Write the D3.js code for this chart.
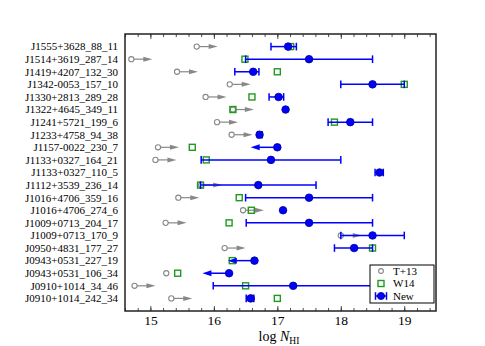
<!DOCTYPE html>
<html>
<head>
<meta charset="utf-8">
<script src="https://cdn.jsdelivr.net/npm/d3@7"></script>
<style>
  body { margin: 0; background: #fff; }
  svg { display: block; font-family: "Liberation Serif", "DejaVu Serif", serif; }
</style>
</head>
<body>
<svg id="chart" width="485" height="346"></svg>
<script>
// Sightlines, top to bottom
const names = [
  "J1555+3628_88_11", "J1514+3619_287_14", "J1419+4207_132_30", "J1342-0053_157_10",
  "J1330+2813_289_28", "J1322+4645_349_11", "J1241+5721_199_6", "J1233+4758_94_38",
  "J1157-0022_230_7", "J1133+0327_164_21", "J1133+0327_110_5", "J1112+3539_236_14",
  "J1016+4706_359_16", "J1016+4706_274_6", "J1009+0713_204_17", "J1009+0713_170_9",
  "J0950+4831_177_27", "J0943+0531_227_19", "J0943+0531_106_34", "J0910+1014_34_46",
  "J0910+1014_242_34"
];

// T+13 (grey circles), lower limit flag -> arrow to the right
const t13 = [15.73, 14.70, 15.42, 16.25, 15.87, 16.30, 16.05, 16.28, 15.12, 15.08, null,
  15.80, 15.44, 16.46, 15.24, 18.00, 16.17, null, 15.25, 14.75, 15.33];
const t13Limit = [1, 1, 1, 1, 1, 1, 1, 1, 1, 1, 0, 1, 1, 1, 1, 1, 1, 0, 0, 1, 1];

// W14 (green squares)
const w14 = [17.21, 16.49, 17.00, 19.00, 16.60, 16.30, 17.90, null, 15.66, 15.88, null,
  15.79, 16.40, 16.59, 16.24, null, 18.50, 16.29, 15.43, 16.50, 17.00];

// New (blue): value with range, or upper limit when lo/hi are null
const newVal = [17.17, 17.50, 16.62, 18.50, 17.02, 17.13, 18.15, 16.72, 17.00, 16.90, 18.61,
  16.70, 17.50, 17.09, 17.50, 18.50, 18.21, 16.64, 16.24, 17.25, 16.58];
const newLo = [16.90, 16.50, 16.33, 18.00, 16.87, 17.13, 17.80, 16.69, null, 15.80, 18.54,
  15.79, 16.50, 17.09, 16.51, 18.00, 17.90, null, null, 15.99, 16.51];
const newHi = [17.30, 18.50, 16.71, 19.00, 17.10, 17.13, 18.50, 16.76, null, 18.00, 18.67,
  17.61, 18.50, 17.09, 18.50, 19.00, 18.50, null, null, 18.50, 16.63];

const majorTicks = [15, 16, 17, 18, 19];
const minorTicks = d3.range(14.6, 19.5, 0.2).map(v => +v.toFixed(1));
const legendLabels = ["T+13", "W14", "New"];

const grey = "#888", green = "#1f9a1f", blue = "#0000ff";
const lowerLen = 0.33, upperLen = 0.42;

const svg = d3.select("#chart");
const mLeft = 125, mRight = 436, mTop = 34, mBottom = 311;

const x = d3.scaleLinear().domain([14.6, 19.5]).range([mLeft, mRight]);
const y = d3.scalePoint().domain(names).range([mTop, mBottom]).padding(1);

// Axes (ticks inside on top and bottom)
const bottomAxis = svg.append("g").attr("transform", `translate(0,${mBottom})`)
  .call(d3.axisBottom(x).tickValues(majorTicks).tickSize(-5).tickPadding(4).tickFormat(d3.format("d")));
svg.append("g").attr("transform", `translate(0,${mBottom})`)
  .call(d3.axisBottom(x).tickValues(minorTicks).tickSize(-3).tickFormat(""));
svg.append("g").attr("transform", `translate(0,${mTop})`)
  .call(d3.axisTop(x).tickValues(majorTicks).tickSize(-5).tickFormat(""));
svg.append("g").attr("transform", `translate(0,${mTop})`)
  .call(d3.axisTop(x).tickValues(minorTicks).tickSize(-3).tickFormat(""));
svg.selectAll(".domain").remove();
svg.selectAll(".tick line").attr("stroke", "#222").attr("stroke-width", 0.8);
bottomAxis.selectAll("text").attr("font-size", 13.5).attr("fill", "#000")
  .attr("font-family", "Liberation Serif");

// Row labels
svg.append("g").selectAll("text")
  .data(names)
  .enter()
  .append("text")
  .attr("x", 118)
  .attr("y", d => y(d))
  .attr("dy", "0.35em")
  .attr("text-anchor", "end")
  .attr("font-size", 11)
  .text(d => d);

const plot = svg.append("g");

function arrow(g, x0, x1, yy, color, width, headLen, headHalf) {
  const dir = x1 > x0 ? 1 : -1;
  g.append("line")
    .attr("x1", x0).attr("x2", x1 - dir * headLen * 0.6)
    .attr("y1", yy).attr("y2", yy)
    .attr("stroke", color).attr("stroke-width", width);
  g.append("path")
    .attr("d", `M${x1},${yy} L${x1 - dir * headLen},${yy - headHalf} L${x1 - dir * headLen},${yy + headHalf} Z`)
    .attr("fill", color);
}

// T+13
names.forEach((n, i) => {
  if (t13[i] == null) return;
  const cx = x(t13[i]), cy = y(n);
  if (t13Limit[i]) arrow(plot, cx + 2.5, x(t13[i] + lowerLen), cy, grey, 1.2, 9, 2.5);
  plot.append("circle")
    .attr("cx", cx).attr("cy", cy).attr("r", 2.6)
    .attr("fill", "none").attr("stroke", grey).attr("stroke-width", 1.1);
});

// W14
names.forEach((n, i) => {
  if (w14[i] == null) return;
  plot.append("rect")
    .attr("x", x(w14[i]) - 3).attr("y", y(n) - 3)
    .attr("width", 6).attr("height", 6)
    .attr("fill", "none").attr("stroke", green).attr("stroke-width", 1.4);
});

// New
names.forEach((n, i) => {
  const cy = y(n), cx = x(newVal[i]);
  if (newLo[i] == null) {
    arrow(plot, cx, x(newVal[i] - upperLen), cy, blue, 1.5, 9, 3);
  } else if (newHi[i] - newLo[i] > 0.001) {
    const x0 = x(newLo[i]), x1 = x(newHi[i]);
    plot.append("line").attr("x1", x0).attr("x2", x1).attr("y1", cy).attr("y2", cy)
      .attr("stroke", blue).attr("stroke-width", 1.5);
    [x0, x1].forEach(xx => plot.append("line")
      .attr("x1", xx).attr("x2", xx).attr("y1", cy - 3.8).attr("y2", cy + 3.8)
      .attr("stroke", blue).attr("stroke-width", 1.5));
  }
  plot.append("circle")
    .attr("cx", cx).attr("cy", cy).attr("r", 3.8)
    .attr("fill", blue).attr("stroke", "#00008b").attr("stroke-width", 0.8);
});

// Frame
svg.append("rect")
  .attr("x", mLeft).attr("y", mTop)
  .attr("width", mRight - mLeft).attr("height", mBottom - mTop)
  .attr("fill", "none").attr("stroke", "#222").attr("stroke-width", 1.5);

// Axis title
const title = svg.append("text")
  .attr("x", 279).attr("y", 341)
  .attr("text-anchor", "middle")
  .attr("font-size", 14);
title.append("tspan").text("log ");
title.append("tspan").attr("font-style", "italic").text("N");
title.append("tspan").attr("font-size", 9.5).attr("dy", 3).text("HI");

// Legend
const lg = svg.append("g");
lg.append("rect")
  .attr("x", 370).attr("y", 265).attr("width", 64).attr("height", 38)
  .attr("fill", "#fff").attr("stroke", "#000").attr("stroke-width", 1);
const ly = [271, 283.5, 296];
const lx = 381;
lg.append("circle").attr("cx", lx).attr("cy", ly[0]).attr("r", 2.4)
  .attr("fill", "none").attr("stroke", grey).attr("stroke-width", 1.1);
lg.append("rect").attr("x", lx - 3).attr("y", ly[1] - 3).attr("width", 6).attr("height", 6)
  .attr("fill", "none").attr("stroke", green).attr("stroke-width", 1.4);
lg.append("line").attr("x1", lx - 5.5).attr("x2", lx + 5.5).attr("y1", ly[2]).attr("y2", ly[2])
  .attr("stroke", blue).attr("stroke-width", 1.5);
[lx - 5.5, lx + 5.5].forEach(xx => lg.append("line")
  .attr("x1", xx).attr("x2", xx).attr("y1", ly[2] - 3.8).attr("y2", ly[2] + 3.8)
  .attr("stroke", blue).attr("stroke-width", 1.5));
lg.append("circle").attr("cx", lx).attr("cy", ly[2]).attr("r", 3.6)
  .attr("fill", blue).attr("stroke", "#00008b").attr("stroke-width", 0.8);
lg.selectAll(".lt")
  .data(legendLabels)
  .enter()
  .append("text")
  .attr("x", 393)
  .attr("y", (d, i) => ly[i])
  .attr("dy", "0.35em")
  .attr("font-size", 11)
  .text(d => d);
</script>
</body>
</html>
